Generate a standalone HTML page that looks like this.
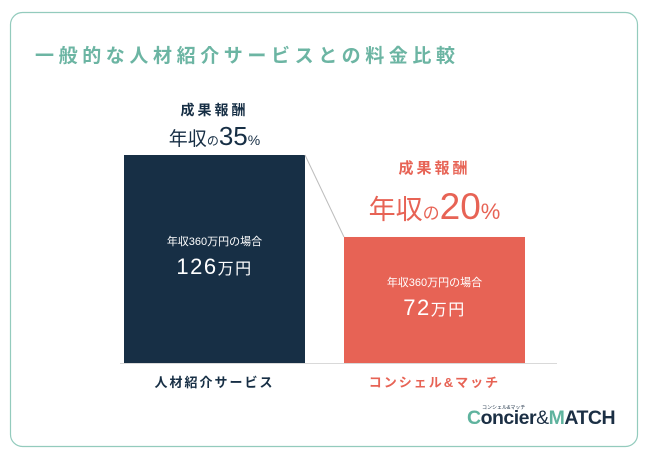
<!DOCTYPE html>
<html><head><meta charset="utf-8">
<style>
body{margin:0;width:650px;height:460px;background:#fff;overflow:hidden;font-family:"Liberation Sans","Noto Sans CJK JP",sans-serif;}
svg text{font-family:"Liberation Sans","Noto Sans CJK JP",sans-serif;}
</style></head><body>
<svg id="chart" width="650" height="460">
<rect x="10.5" y="12.5" width="627" height="434" rx="12" fill="#fff" stroke="#93cbbd" stroke-width="1.2"/>
<text x="35" y="62" font-size="19" font-weight="bold" fill="#6cb5a3" letter-spacing="4.6">一般的な人材紹介サービスとの料金比較</text>
<line x1="120" y1="363.5" x2="557" y2="363.5" stroke="#d9d9d9" stroke-width="1"/>
<g id="bars"></g>
<g>
<text x="467" y="424" font-size="19.5" font-weight="bold" fill="#1b2f44" letter-spacing="-0.5"><tspan fill="#5fb39e">C</tspan>oncier<tspan font-weight="normal">&amp;</tspan><tspan fill="#5fb39e">M</tspan>ATCH</text>
<text x="482" y="409" font-size="5" fill="#1b2f44">コンシェル&amp;マッチ</text>
</g>
</svg>
<script>
const categories=["人材紹介サービス","コンシェル&マッチ"];
const values=[126,72];
const rates=[35,20];
const colors=["#172f45","#e76355"];
const baseY=363, yMin=-11, yMax=126, topY=155;
function y(v){return baseY-(v-yMin)/(yMax-yMin)*(baseY-topY);}
const xs=[124,344], bw=181;
const svg=document.getElementById('bars');
const NS="http://www.w3.org/2000/svg";
function mk(tag,attrs,txt){const e=document.createElementNS(NS,tag);for(const k in attrs)e.setAttribute(k,attrs[k]);if(txt!==undefined)e.textContent=txt;svg.appendChild(e);return e;}
values.forEach((v,i)=>{
  const x=xs[i], top=y(v), cx=x+bw/2;
  const r=mk('rect',{x:x,y:top,width:bw,height:baseY-top,fill:colors[i]});
  
  
  const midY=(top+baseY)/2;
  const t1=mk('text',{x:cx,y:midY-14,'font-size':11,fill:'#fff','text-anchor':'middle'},'年収360万円の場合');
  
  
  const t2=mk('text',{x:cx,y:midY+15,'font-size':22,fill:'#fff','text-anchor':'middle','letter-spacing':'1.5'});
  t2.innerHTML=v+'<tspan font-size="16">万円</tspan>';
  
  
  const big=i===1;
  const h1=mk('text',{x:cx,y:big?top-64:top-40,'font-size':big?15:14,'font-weight':'bold',fill:colors[i],'text-anchor':'middle','letter-spacing':'3'},'成果報酬');
  
  
  const h2=mk('text',{x:cx,y:big?top-18:top-10,fill:colors[i],'text-anchor':'middle'});
  h2.innerHTML=big?'<tspan font-size="27">年収</tspan><tspan font-size="17">の</tspan><tspan font-size="37">'+rates[i]+'</tspan><tspan font-size="22">%</tspan>'
                  :'<tspan font-size="19">年収</tspan><tspan font-size="12">の</tspan><tspan font-size="26">'+rates[i]+'</tspan><tspan font-size="14">%</tspan>';
  
  
  const c=mk('text',{x:cx,y:387,'font-size':13,'font-weight':'bold',fill:colors[i],'text-anchor':'middle','letter-spacing':'2'},categories[i]);
  
  
});
const ln=mk('line',{x1:xs[0]+bw,y1:y(values[0]),x2:xs[1],y2:y(values[1]),stroke:'#bdbdbd','stroke-width':1});


</script>
</body></html>
